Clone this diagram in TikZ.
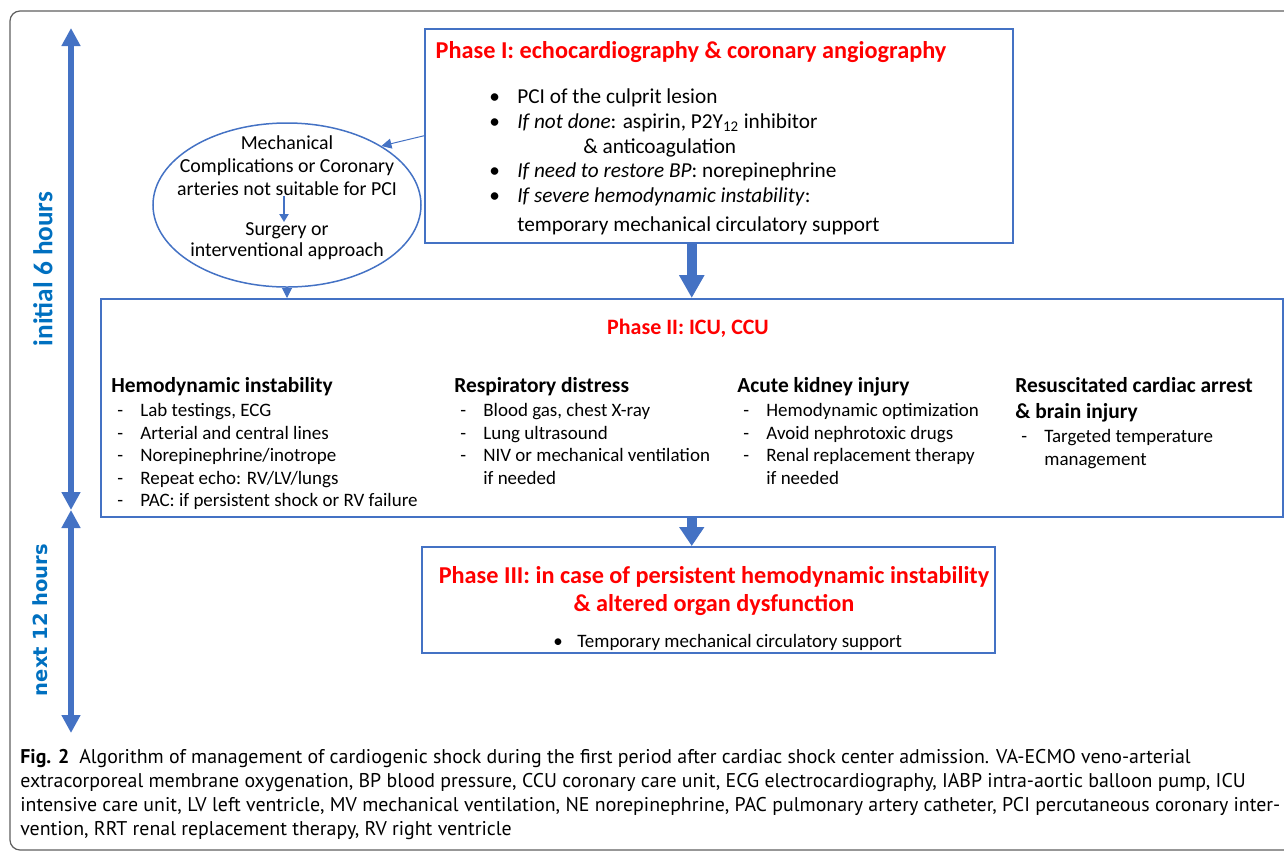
\documentclass[tikz,border=0pt]{standalone}
\usepackage{fontspec}
\setmainfont{Carlito}
\newfontfamily\capfont{PT Sans}
\newfontfamily\verdfont{DejaVu Sans}
\usetikzlibrary{arrows.meta, positioning, shapes.geometric}

\definecolor{boxblue}{RGB}{68,114,196}
\definecolor{timeblue}{RGB}{0,112,192}
\definecolor{titlered}{RGB}{255,0,0}
\definecolor{framegray}{RGB}{95,95,95}
\newcommand\bul{\makebox[5.6mm][l]{\textbullet}}
\newcommand\dsh{\makebox[4.6mm][l]{-}}

\begin{document}
\begin{tikzpicture}[
  x=0.2mm, y=-0.2mm,
  phasebox/.style={draw=boxblue, line width=0.3mm, inner sep=0pt, anchor=north west},
  ttl/.style={font=\bfseries\fontsize{13.8}{15.9}\selectfont, text=titlered,
              align=center, inner sep=0pt},
  body/.style={font=\fontsize{12.1}{14.2}\selectfont, align=left, inner sep=0pt,
               anchor=north west},
  ell/.style={font=\fontsize{11.3}{13}\selectfont, align=center, inner sep=0pt},
  head/.style={font=\bfseries\fontsize{12.2}{14.7}\selectfont, align=left,
               inner sep=0pt, anchor=north west},
  item/.style={font=\fontsize{10.8}{12.85}\selectfont, align=left, inner sep=0pt,
               anchor=north west},
  bigarr/.style={-{Triangle[width=4.8mm,length=4.6mm]}, line width=2mm, boxblue},
  thinarr/.style={-{Triangle[width=2mm,length=2mm]}, line width=0.2mm, boxblue},
  timearr/.style={{Triangle[width=3.6mm,length=3.6mm]}-{Triangle[width=3.6mm,length=3.6mm]},
                  line width=1.2mm, boxblue},
  timelbl/.style={rotate=90, text=timeblue, inner sep=0pt}
]
\useasboundingbox (0,0) rectangle (1284,852);
\clip (0,0) rectangle (1284,852);

%% ---------- outer frame ----------
\draw[framegray, line width=0.25mm, rounded corners=2mm] (10,11) rectangle (1310,850);

%% ---------- time axis ----------
\coordinate (t0) at (71,28);
\coordinate (t1) at (71,510);
\coordinate (t2) at (71,733);
\draw[timearr] (t0) -- (t1);
\draw[timearr] (t1) -- (t2);
\node[timelbl, font=\bfseries\fontsize{15.5}{18}\selectfont] (initlbl) at (43,269) {initial 6 hours};
\node[timelbl, font=\verdfont\bfseries\fontsize{11.1}{13}\selectfont] (nextlbl) at (40,620) {next 12 hours};

%% ---------- phase I ----------
\node[phasebox, minimum width=117.6mm, minimum height=42.8mm] (phaseI) at (424,28) {};
\node[ttl] (p1title) at (691,52) {Phase I: echocardiography \& coronary angiography};
\node[body] (p1list) at (489,88) {%
  \bul PCI of the culprit lesion\\
  \bul\textit{If not done}: aspirin, P2Y\textsubscript{12} inhibitor\\
  \hspace{18.8mm}\& anticoagulation\\
  \bul\textit{If need to restore BP}: norepinephrine\\
  \bul\textit{If severe hemodynamic instability}:\\[0.8mm]
  \hspace{5.6mm}temporary mechanical circulatory support};

%% ---------- complications ----------
\node[ellipse, draw=boxblue, line width=0.3mm, minimum width=53.6mm,
      minimum height=32.8mm, inner sep=0pt] (compl) at (287,205) {};
\node[ell] (compltop) at (287,166) {Mechanical\\Complications or Coronary\\arteries not suitable for PCI};
\node[ell, font=\fontsize{11.3}{12}\selectfont] (complbot) at (287,241) {Surgery or\\interventional approach};
\draw[-{Triangle[width=1.8mm,length=1.6mm]}, line width=0.5mm, boxblue]
  (compltop.south -| 284,0) -- (complbot.north -| 284,0);
\draw[thinarr] (phaseI.west) -- (compl.32);

%% ---------- phase II ----------
\node[phasebox, minimum width=236.4mm, minimum height=43.6mm] (phaseII) at (100,298) {};
\node[ttl, font=\bfseries\fontsize{12.5}{15.6}\selectfont] (p2title) at (688,328) {Phase II: ICU, CCU};
\draw[thinarr] (compl.south) -- (compl.south |- phaseII.north);
\draw[bigarr] (phaseII.north |- phaseI.south) -- (phaseII.north);

\node[head] (h1) at (111,377) {Hemodynamic instability};
\node[item] (l1) at (117,403) {%
  \dsh Lab testings, ECG\\
  \dsh Arterial and central lines\\
  \dsh Norepinephrine/inotrope\\
  \dsh Repeat echo: RV/LV/lungs\\
  \dsh PAC: if persistent shock or RV failure};

\node[head] (h2) at (454,377) {Respiratory distress};
\node[item] (l2) at (460,403) {%
  \dsh Blood gas, chest X-ray\\
  \dsh Lung ultrasound\\
  \dsh NIV or mechanical ventilation\\
  \hspace{4.6mm}if needed};

\node[head] (h3) at (737,377) {Acute kidney injury};
\node[item] (l3) at (743,403) {%
  \dsh Hemodynamic optimization\\
  \dsh Avoid nephrotoxic drugs\\
  \dsh Renal replacement therapy\\
  \hspace{4.6mm}if needed};

\node[head, font=\bfseries\fontsize{12.2}{14.9}\selectfont] (h4) at (1015,377)
  {Resuscitated cardiac arrest\\\& brain injury};
\node[item] (l4) at (1021,429) {%
  \dsh Targeted temperature\\
  \hspace{4.6mm}management};

%% ---------- phase III ----------
\node[phasebox, minimum width=114.6mm, minimum height=21.2mm] (phaseIII) at (421,546) {};
\draw[bigarr, -{Triangle[width=4.8mm,length=3.8mm]}] (phaseII.south) -- (phaseII.south |- phaseIII.north);
\node[ttl] (p3title) at (714,591.5)
  {Phase III: in case of persistent hemodynamic instability\\\& altered organ dysfunction};
\node[item, anchor=west] (p3list) at (553,642) {\makebox[4.8mm][l]{\textbullet}Temporary mechanical circulatory support};

%% ---------- caption ----------
\node[anchor=north west, align=left, inner sep=0pt,
      font=\capfont\fontsize{11.3}{13.6}\selectfont] (caption) at (20,749) {%
  \textbf{Fig. 2}\hspace{2mm}Algorithm of management of cardiogenic shock during the first period after cardiac shock center admission. VA-ECMO veno-arterial\\
  extracorporeal membrane oxygenation, BP blood pressure, CCU coronary care unit, ECG electrocardiography, IABP intra-aortic balloon pump, ICU\\
  \hbox to 252mm{intensive care unit, LV left ventricle, MV mechanical ventilation, NE norepinephrine, PAC pulmonary artery catheter, PCI percutaneous coronary inter-}\\
  vention, RRT renal replacement therapy, RV right ventricle};
\end{tikzpicture}
\end{document}
